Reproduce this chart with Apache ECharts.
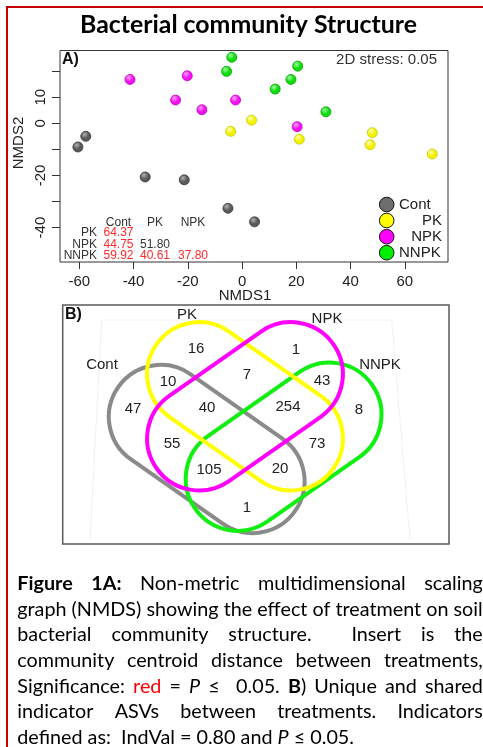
<!DOCTYPE html>
<html><head><meta charset="utf-8">
<script src="https://cdn.jsdelivr.net/npm/echarts@6/dist/echarts.min.js"></script>
<style>html,body{margin:0;padding:0;background:#fff;}#chart{width:483px;height:747px;}</style>
</head><body><div id="chart"></div>
<script>
// ---------------- DATA ----------------
const groups = ['Cont', 'PK', 'NPK', 'NNPK'];
const contPts = [[-57.6, -5.0], [-60.5, -9.1], [-35.7, -20.6], [-21.3, -21.7], [-5.2, -32.6], [4.6, -37.8]];
const pkPts   = [[3.5, 1.2], [-4.2, -3.1], [21.1, -6.1], [48.0, -3.6], [47.2, -8.2], [70.1, -11.8]];
const npkPts  = [[-41.3, 16.8], [-20.2, 18.2], [-24.5, 8.9], [-14.8, 5.2], [-2.4, 8.9], [20.3, -1.3]];
const nnpkPts = [[-3.8, 25.3], [-5.7, 19.9], [20.5, 21.9], [18.0, 16.8], [12.2, 13.1], [30.9, 4.4]];
const xTicks = [-60, -40, -20, 0, 20, 40, 60];
const yTicks = [20, 10, 0, -10, -20, -30, -40];
const yTickLabels = [10, 0, -20, -40];
const xRange = [-67.1, 75.9];
const yRange = [-53.2, 27.9];
const stressText = '2D stress: 0.05';
const distCols = ['Cont', 'PK', 'NPK'];
const distRows = ['PK', 'NPK', 'NNPK'];
const distVals = [[64.37], [44.75, 51.80], [59.92, 40.61, 37.80]];
const distSig  = [[true], [true, false], [true, true, true]];
const vennSets = ['Cont', 'PK', 'NPK', 'NNPK'];
const vennRegions = ['PK', 'NPK', 'PK&NPK', 'Cont&PK', 'NPK&NNPK', 'Cont', 'Cont&PK&NPK',
  'PK&NPK&NNPK', 'NNPK', 'Cont&NPK', 'PK&NNPK', 'Cont&NPK&NNPK', 'Cont&PK&NNPK', 'Cont&NNPK'];
const vennCounts = [16, 1, 7, 10, 43, 47, 40, 254, 8, 55, 73, 105, 20, 1];
const titleText = 'Bacterial community Structure';
const captionLines = [
  '[b:Figure] [b:1A:] Non-metric multidimensional scaling',
  'graph (NMDS) showing the effect of treatment on soil',
  'bacterial community structure.  Insert is the',
  'community centroid distance between treatments,',
  'Significance: [r:red] = [i:P] \u2264  0.05. [b:B]) Unique and shared',
  'indicator ASVs between treatments. Indicators',
  'defined as:  IndVal = 0.80 and [i:P] \u2264 0.05.'
];

// ---------------- STYLE / LAYOUT ----------------
const groupColors = {Cont: '#6e6e6e', PK: '#ffff00', NPK: '#ff00ff', NNPK: '#00ee00'};
const ballStyle = {
  Cont: ['#5a5a5a', '#b0b0b0', '#333333'],
  PK:   ['#f2f200', '#ffffc0', '#c8c800'],
  NPK:  ['#f010f0', '#ffa0ff', '#c000c0'],
  NNPK: ['#10dd10', '#a0ffa0', '#00a000']
};
const vennColors = {Cont: '#8a8a8a', PK: '#ffff00', NPK: '#ff00ff', NNPK: '#11ee11'};
const vennHalfLen = 56, vennR = 52;
const vennShapes = {
  Cont: {cx: 206.7, cy: 449, ang: 35},
  PK:   {cx: 245, cy: 406.3, ang: 35},
  NPK:  {cx: 245, cy: 406.3, ang: -35},
  NNPK: {cx: 283.6, cy: 446.7, ang: -35}
};
const vennDrawOrder = ['Cont', 'NNPK', 'PK', 'NPK'];
const vennLabelPos = {
  'PK': [196, 349], 'NPK': [296, 350], 'PK&NPK': [247, 375], 'Cont&PK': [168, 382],
  'NPK&NNPK': [322, 381], 'Cont': [133, 409], 'Cont&PK&NPK': [207, 408], 'PK&NPK&NNPK': [288, 407],
  'NNPK': [359, 410], 'Cont&NPK': [172, 444], 'PK&NNPK': [317, 444], 'Cont&NPK&NNPK': [209, 470],
  'Cont&PK&NNPK': [280, 469], 'Cont&NNPK': [247, 508]
};
const vennSetLabelPos = {Cont: [102, 365], PK: [187, 315], NPK: [327, 319], NNPK: [380, 365]};
const SANS = 'Liberation Sans';
const CAP = 'Lato';

const mctx = document.createElement('canvas').getContext('2d');
function measure(t, size, bold, italic, fam) {
  mctx.font = (italic ? 'italic ' : '') + (bold ? 'bold ' : '') + size + 'px "' + fam + '"';
  return mctx.measureText(t).width;
}
function txt(x, y, text, o) {
  o = o || {};
  const st = {
    text: text, fontFamily: o.fam || SANS, fontSize: o.size || 15,
    fontWeight: o.bold ? 'bold' : 'normal', fontStyle: o.italic ? 'italic' : 'normal',
    fill: o.color || '#222',
    align: o.align || 'center', textAlign: o.align || 'center',
    verticalAlign: 'middle', textVerticalAlign: 'middle'
  };
  const el = {type: 'text', x: x, y: y, style: st, silent: true, z: 10};
  if (o.rot) el.rotation = o.rot;
  return el;
}

const graphics = [];
// outer red frame
graphics.push({type: 'rect', shape: {x: 7, y: 7, width: 520, height: 800},
  style: {fill: 'none', stroke: '#c40000', lineWidth: 2}, silent: true});

// Title, fitted to its width in the reference
let tSize = 22;
tSize = tSize * 337 / measure(titleText, tSize, true, false, CAP);
graphics.push(txt(248.5, 25, titleText, {fam: CAP, size: tSize, bold: true, color: '#000'}));

// Panel A annotations
graphics.push(txt(62, 60, 'A)', {size: 16, bold: true, align: 'left', color: '#111'}));
graphics.push(txt(437, 59.5, stressText, {size: 15, align: 'right', color: '#333'}));
graphics.push(txt(245, 296, 'NMDS1', {size: 15, color: '#222'}));
graphics.push(txt(19, 143, 'NMDS2', {size: 15, color: '#222', rot: Math.PI / 2}));

// legend
const legY = [204.5, 220.5, 236.7, 252.7];
const legTextY = [205, 221, 237.3, 253.3];
groups.forEach(function (g, i) {
  graphics.push({type: 'circle', shape: {cx: 386.7, cy: legY[i], r: 7.3},
    style: {fill: groupColors[g], stroke: '#111', lineWidth: 1}, silent: true, z: 10});
  if (g === 'Cont' || g === 'NNPK') graphics.push(txt(399, legTextY[i], g, {size: 15, align: 'left'}));
  else graphics.push(txt(442, legTextY[i], g, {size: 15, align: 'right'}));
});

// centroid distance insert
const colX = [118.5, 155, 193];
const rowY = [233, 245, 255.5];
distCols.forEach(function (c, j) {
  graphics.push(txt(colX[j], 222.3, c, {size: 12, color: '#333'}));
});
distRows.forEach(function (r, i) {
  graphics.push(txt(97, rowY[i], r, {size: 12, align: 'right', color: '#333'}));
  distVals[i].forEach(function (v, j) {
    graphics.push(txt(colX[j], rowY[i], v.toFixed(2),
      {size: 12, color: distSig[i][j] ? '#ff2a2a' : '#333'}));
  });
});

// Panel B box and faint background lines
graphics.push({type: 'rect', shape: {x: 62.7, y: 305, width: 386.3, height: 239},
  style: {fill: 'none', stroke: '#5a5a5a', lineWidth: 1.5}, silent: true});
graphics.push({type: 'polyline', shape: {points: [[90, 540], [101.7, 320], [391.7, 320], [410, 540]]},
  style: {fill: 'none', stroke: '#f1f1f1', lineWidth: 1}, silent: true});
graphics.push(txt(65, 314.5, 'B)', {size: 16, bold: true, align: 'left', color: '#111'}));

vennDrawOrder.forEach(function (s, k) {
  const v = vennShapes[s];
  const w = 2 * (vennHalfLen + vennR), h = 2 * vennR;
  graphics.push({type: 'rect', x: v.cx, y: v.cy, rotation: -v.ang * Math.PI / 180,
    shape: {x: -w / 2, y: -h / 2, width: w, height: h, r: vennR},
    style: {fill: 'none', stroke: vennColors[s], lineWidth: 4}, silent: true, z: 5 + k});
});
vennSets.forEach(function (s) {
  const p = vennSetLabelPos[s];
  graphics.push(txt(p[0], p[1], s, {size: 15}));
});
vennRegions.forEach(function (r, i) {
  const p = vennLabelPos[r];
  graphics.push(txt(p[0], p[1], String(vennCounts[i]), {size: 15}));
});

// Caption (justified like the reference)
function parseSegs(w) {
  const segs = []; const re = /\[(b|i|r):([^\]]*)\]|([^\[]+)/g; let m;
  while ((m = re.exec(w))) { if (m[3]) segs.push({t: m[3], s: ''}); else segs.push({t: m[2], s: m[1]}); }
  return segs;
}
function parseLine(str) {
  const parts = str.split(/( +)/); const words = []; const gaps = [];
  parts.forEach(function (p, i) { if (i % 2 === 0) { if (p) words.push(parseSegs(p)); } else gaps.push(p.length); });
  return {words: words, gaps: gaps};
}
const capLeft = 17.3, capRight = 482.7, capW = capRight - capLeft;
const capY0 = 583.5, capDY = 25.7;
const parsed = captionLines.map(parseLine);
function lineWidth(pl, size) {
  let w = 0;
  pl.words.forEach(function (wd) { wd.forEach(function (sg) { w += measure(sg.t, size, sg.s === 'b', sg.s === 'i', CAP); }); });
  return w;
}
const lastPl = parsed[parsed.length - 1];
function naturalW(pl, size) {
  let g = 0; pl.gaps.forEach(function (x) { g += x; });
  return lineWidth(pl, size) + g * measure(' ', size, false, false, CAP);
}
let capSize = 18 * 338 / naturalW(lastPl, 18);
parsed.forEach(function (pl, li) {
  if (li < parsed.length - 1) {
    const nw = naturalW(pl, capSize);
    if (nw > capW) capSize *= capW / nw;
  }
});
parsed.forEach(function (pl, li) {
  const y = capY0 + li * capDY;
  const justify = li < parsed.length - 1;
  let gsum = 0; pl.gaps.forEach(function (x) { gsum += x; });
  const unit = justify ? (capW - lineWidth(pl, capSize)) / gsum : measure(' ', capSize, false, false, CAP);
  let x = capLeft;
  pl.words.forEach(function (wd, wi) {
    wd.forEach(function (sg) {
      const b = sg.s === 'b', it = sg.s === 'i';
      graphics.push(txt(x, y, sg.t, {fam: CAP, size: capSize, bold: b, italic: it, align: 'left',
        color: sg.s === 'r' ? '#ff0000' : '#000'}));
      x += measure(sg.t, capSize, b, it, CAP);
    });
    if (wi < pl.gaps.length) x += pl.gaps[wi] * unit;
  });
});

// ---------------- CHART ----------------
function ball(g) {
  const b = ballStyle[g];
  return {color: {type: 'radial', x: 0.38, y: 0.32, r: 0.7,
    colorStops: [{offset: 0, color: b[1]}, {offset: 0.55, color: b[0]}, {offset: 1, color: b[0]}]},
    borderColor: b[2], borderWidth: 0.8, opacity: 1};
}
const seriesData = {Cont: contPts, PK: pkPts, NPK: npkPts, NNPK: nnpkPts};
const chart = echarts.init(document.getElementById('chart'), null, {renderer: 'canvas', width: 483, height: 747});
chart.setOption({
  animation: false,
  backgroundColor: '#fff',
  textStyle: {fontFamily: SANS},
  grid: {left: 60, top: 50.5, width: 388, height: 211.5, show: true, borderColor: '#333', borderWidth: 1,
    backgroundColor: 'transparent', containLabel: false, outerBoundsMode: 'none'},
  xAxis: {type: 'value', min: xRange[0], max: xRange[1], position: 'bottom',
    axisLine: {show: false, onZero: false}, splitLine: {show: false},
    axisTick: {show: true, length: 7, inside: false, customValues: xTicks, lineStyle: {color: '#333', width: 1}},
    axisLabel: {customValues: xTicks, fontSize: 15, color: '#222', margin: 12, fontFamily: SANS}},
  yAxis: {type: 'value', min: yRange[0], max: yRange[1], position: 'left',
    axisLine: {show: false, onZero: false}, splitLine: {show: false},
    axisTick: {show: true, length: 8, inside: false, customValues: yTicks, lineStyle: {color: '#333', width: 1}},
    axisLabel: {customValues: yTickLabels, rotate: 90, fontSize: 15, color: '#222', margin: 12, fontFamily: SANS}},
  series: groups.map(function (g) {
    return {name: g, type: 'scatter', data: seriesData[g], symbol: 'circle', symbolSize: 10,
      itemStyle: ball(g), z: 3};
  }),
  graphic: {elements: graphics}
});
</script>
</body></html>
